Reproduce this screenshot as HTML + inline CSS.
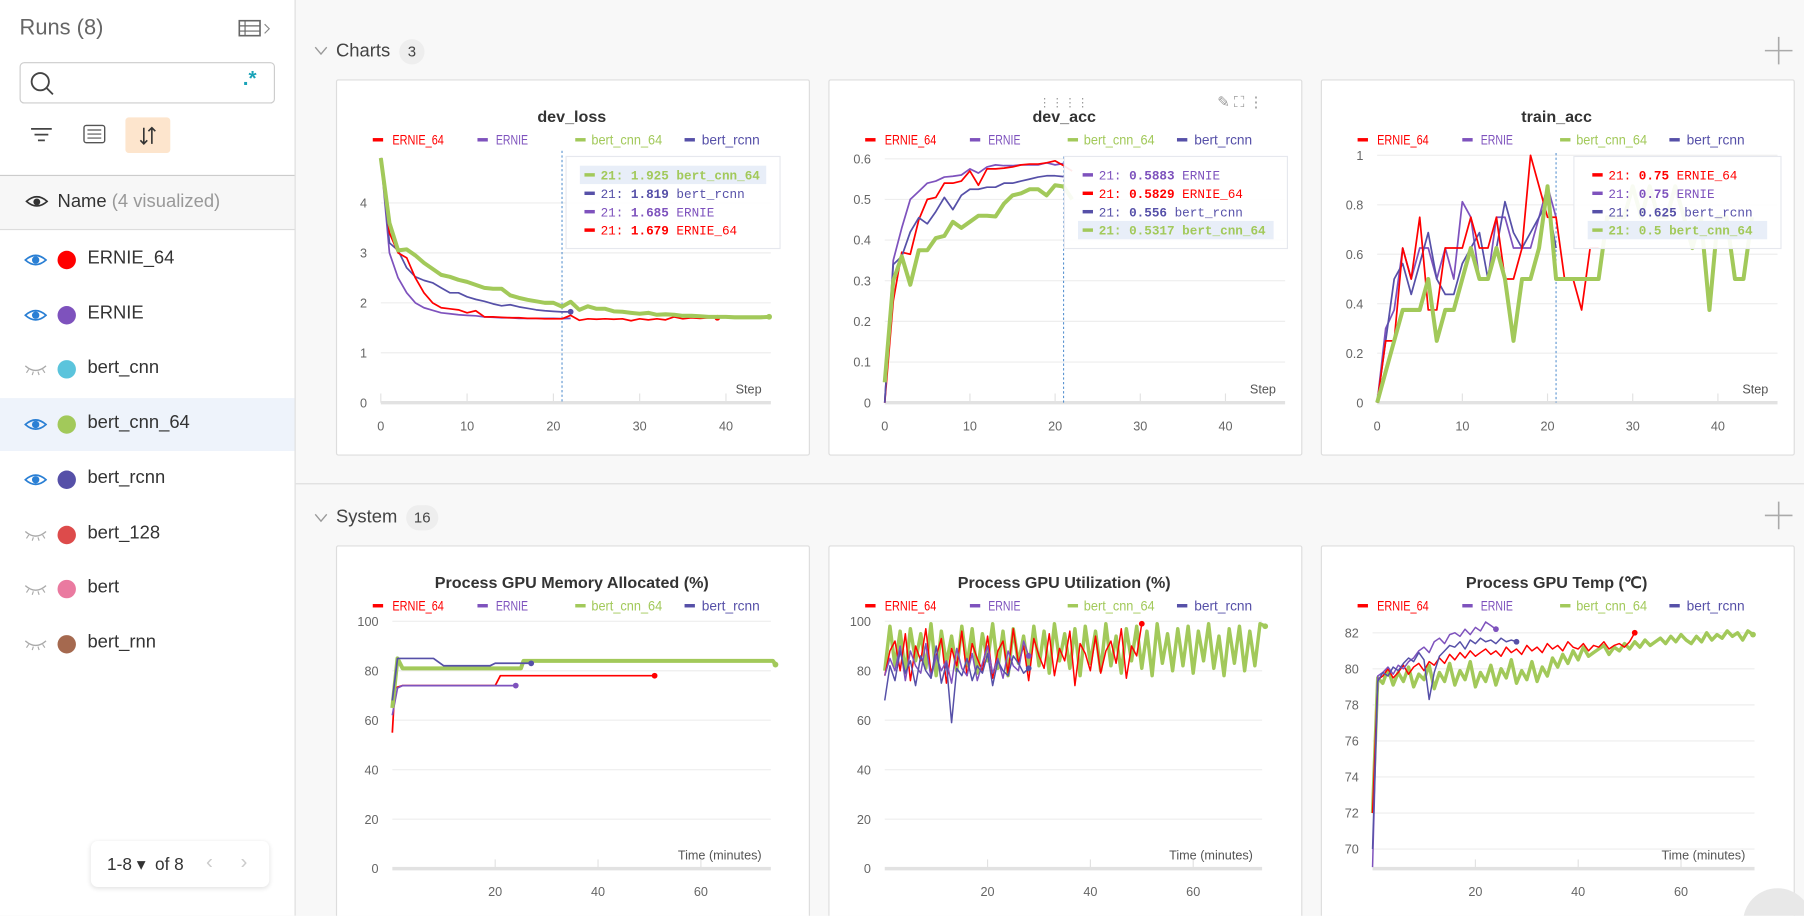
<!DOCTYPE html>
<html><head><meta charset="utf-8">
<style>
html,body{margin:0;padding:0;width:1804px;height:916px;overflow:hidden;background:#f8f8f8;font-family:"Liberation Sans",sans-serif;}
#outer{position:relative;width:1804px;height:916px;overflow:hidden;}
#wrap{position:absolute;left:0;top:0;width:1568px;height:796px;overflow:hidden;transform:scale(1.15051);transform-origin:0 0;}
.abs{position:absolute;}
#side{left:0;top:0;width:256px;height:796px;background:#fff;border-right:1px solid #ddd;}
.row{position:absolute;left:0;width:256px;height:46px;}
.row .dot{position:absolute;left:50px;top:15px;width:16px;height:16px;border-radius:50%;}
.row .lbl{position:absolute;left:76px;top:13px;font-size:16px;color:#333;}
.row svg{position:absolute;left:21px;top:16px;}
.panel{position:absolute;background:#fff;border:1px solid #ddd;border-radius:2px;}
</style></head><body>
<div id="outer">
<div id="wrap">
 <div id="side" class="abs">
  <div class="abs" style="left:17px;top:14px;font-size:19px;color:#666">Runs (8)</div>
  <svg class="abs" style="left:207px;top:17px" width="32" height="16"><rect x="1" y="1" width="18" height="13" fill="none" stroke="#666" stroke-width="1.4"/><line x1="1" y1="5.5" x2="19" y2="5.5" stroke="#666"/><line x1="1" y1="10" x2="19" y2="10" stroke="#666"/><line x1="6" y1="1" x2="6" y2="14" stroke="#666"/><path d="M23 4 L27 8 L23 12" fill="none" stroke="#888"/></svg>
  <div class="abs" style="left:17px;top:54px;width:220px;height:34px;border:1px solid #ccc;border-radius:4px">
   <svg class="abs" style="left:7px;top:6px" width="24" height="24"><circle cx="10" cy="10" r="7.5" fill="none" stroke="#444" stroke-width="1.6"/><line x1="15.5" y1="15.5" x2="21" y2="21" stroke="#444" stroke-width="1.6"/></svg>
   <div class="abs" style="left:193px;top:3px;color:#1aa3b8;font-size:18px;font-weight:bold">.*</div>
  </div>
  <svg class="abs" style="left:26px;top:109px" width="22" height="18"><line x1="1" y1="3" x2="19" y2="3" stroke="#444" stroke-width="1.5"/><line x1="4" y1="8" x2="16" y2="8" stroke="#444" stroke-width="1.5"/><line x1="7" y1="13" x2="13" y2="13" stroke="#444" stroke-width="1.5"/></svg>
  <svg class="abs" style="left:72px;top:108px" width="22" height="18"><rect x="1" y="1" width="18" height="15" rx="2" fill="none" stroke="#555" stroke-width="1.2"/><line x1="4" y1="5" x2="16" y2="5" stroke="#555"/><line x1="4" y1="8.5" x2="16" y2="8.5" stroke="#555"/><line x1="4" y1="12" x2="16" y2="12" stroke="#555"/></svg>
  <div class="abs" style="left:109px;top:102px;width:39px;height:31px;background:#fde5cd;border-radius:3px">
   <svg class="abs" style="left:11px;top:6px" width="18" height="20"><path d="M5 3 V17 M2 14 L5 17 L8 14 M12 17 V3 M9 6 L12 3 L15 6" fill="none" stroke="#333" stroke-width="1.4"/></svg>
  </div>
  <div class="abs" style="left:0;top:152px;width:256px;height:46px;background:#f7f7f7;border-top:1px solid #ccc;border-bottom:1px solid #ddd">
   <svg class="abs" style="left:22px;top:17px" width="20" height="14"><path d="M1 5 Q10 -3 19 5 Q10 13 1 5 Z" fill="none" stroke="#333" stroke-width="1.4"/><circle cx="10" cy="5.5" r="3" fill="#333"/></svg>
   <div class="abs" style="left:50px;top:14px;font-size:16px;color:#333">Name <span style="color:#999">(4 visualized)</span></div>
  </div>
  <div id="runs"></div>
  <div class="abs" style="left:79px;top:731px;width:155px;height:40px;background:#fff;border-radius:6px;box-shadow:0 1px 4px rgba(0,0,0,0.12)">
   <div class="abs" style="left:14px;top:11px;font-size:15px;color:#333">1-8 ▾ &nbsp;of 8</div>
   <div class="abs" style="left:100px;top:8px;font-size:18px;color:#ccc">‹</div>
   <div class="abs" style="left:130px;top:8px;font-size:18px;color:#ccc">›</div>
  </div>
 </div>

 <svg class="abs" style="left:272px;top:39px" width="14" height="10"><path d="M2 2 L7 8 L12 2" fill="none" stroke="#999" stroke-width="1.2"/></svg>
 <div class="abs" style="left:292px;top:36px;font-size:16px;color:#444">Charts</div>
 <div class="abs" style="left:347px;top:34px;width:22px;height:22px;border-radius:11px;background:#eee;font-size:13px;color:#444;text-align:center;line-height:22px">3</div>
 <svg class="abs" style="left:1533px;top:31px" width="26" height="26"><line x1="13" y1="1" x2="13" y2="25" stroke="#aaa" stroke-width="1.4"/><line x1="1" y1="13" x2="25" y2="13" stroke="#aaa" stroke-width="1.4"/></svg>
 <div class="abs" style="left:257px;top:420px;width:1311px;height:1px;background:#ddd"></div>
 <svg class="abs" style="left:272px;top:445px" width="14" height="10"><path d="M2 2 L7 8 L12 2" fill="none" stroke="#999" stroke-width="1.2"/></svg>
 <div class="abs" style="left:292px;top:441px;font-size:16px;color:#444">System</div>
 <div class="abs" style="left:353px;top:439px;width:28px;height:22px;border-radius:11px;background:#eee;font-size:13px;color:#444;text-align:center;line-height:22px">16</div>
 <svg class="abs" style="left:1533px;top:435px" width="26" height="26"><line x1="13" y1="1" x2="13" y2="25" stroke="#aaa" stroke-width="1.4"/><line x1="1" y1="13" x2="25" y2="13" stroke="#aaa" stroke-width="1.4"/></svg>

 <div class="panel" style="left:292px;top:69px;width:410px;height:325px"></div>
 <div class="panel" style="left:720px;top:69px;width:410px;height:325px"></div>
 <div class="panel" style="left:1148px;top:69px;width:410px;height:325px"></div>
 <div class="panel" style="left:292px;top:474px;width:410px;height:340px"></div>
 <div class="panel" style="left:720px;top:474px;width:410px;height:340px"></div>
 <div class="panel" style="left:1148px;top:474px;width:410px;height:340px"></div>

 <svg id="ch" class="abs" style="left:0;top:0" width="1568" height="796" font-family="Liberation Sans, sans-serif"></svg>
 <div class="abs" style="left:1515px;top:772px;width:60px;height:60px;border-radius:30px;background:#e8e8e8"></div>
</div>
</div>
<script>
// ---------- data ----------
const runNames = ["ERNIE_64","ERNIE","bert_cnn","bert_cnn_64","bert_rcnn","bert_128","bert","bert_rnn"];
const runColors = ["#ff0000","#7e52bd","#5bc4dc","#a2c95a","#5650a8","#dd4b4b","#ea7aa0","#a5694f"];
const runVisible = [true,true,false,true,true,false,false,false];
const legendNames = ["ERNIE_64","ERNIE","bert_cnn_64","bert_rcnn"];
const legendColors = ["#ff0000","#7e52bd","#a2c95a","#5650a8"];

const lossErnie64 = [4.9,3.4,3.0,2.9,2.5,2.2,2.0,1.9,1.88,1.86,1.8,1.84,1.72,1.72,1.71,1.7,1.7,1.69,1.69,1.68,1.68,1.679,1.75,1.65,1.68,1.67,1.68,1.67,1.68,1.64,1.68,1.66,1.68,1.66,1.72,1.68,1.7,1.69,1.7,1.7];
const lossErnie = [4.9,3.0,2.5,2.2,2.0,1.9,1.85,1.8,1.78,1.76,1.75,1.74,1.72,1.71,1.7,1.7,1.69,1.69,1.69,1.69,1.69,1.685,1.69];
const lossCnn64 = [4.9,3.6,3.05,3.07,2.95,2.8,2.68,2.56,2.52,2.46,2.42,2.36,2.3,2.28,2.28,2.15,2.1,2.06,2.03,2.0,2.0,1.925,2.02,1.86,1.93,1.88,1.88,1.83,1.82,1.8,1.78,1.8,1.76,1.77,1.76,1.74,1.74,1.73,1.72,1.72,1.72,1.71,1.71,1.71,1.71,1.72];
const lossRcnn = [4.9,3.2,3.05,2.7,2.52,2.45,2.4,2.3,2.2,2.2,2.12,2.07,2.03,1.98,1.94,1.96,1.92,1.89,1.86,1.84,1.83,1.819,1.82];

const accErnie64 = [0,0.25,0.37,0.365,0.45,0.5,0.505,0.54,0.54,0.545,0.57,0.535,0.575,0.575,0.577,0.58,0.585,0.587,0.587,0.59,0.595,0.5829,0.57];
const accErnie = [0,0.35,0.43,0.5,0.52,0.54,0.545,0.555,0.557,0.56,0.575,0.565,0.58,0.585,0.583,0.583,0.585,0.585,0.585,0.59,0.585,0.5883];
const accCnn64 = [0.05,0.3,0.36,0.29,0.375,0.375,0.405,0.41,0.445,0.43,0.445,0.46,0.46,0.458,0.49,0.51,0.515,0.525,0.525,0.51,0.535,0.5317,0.5];
const accRcnn = [0,0.34,0.36,0.42,0.455,0.44,0.47,0.505,0.475,0.51,0.525,0.525,0.53,0.53,0.54,0.54,0.545,0.55,0.555,0.558,0.558,0.556];

const trErnie64 = [0,0.25,0.25,0.625,0.5,0.75,0.375,0.375,0.625,0.625,0.625,0.75,0.625,0.625,0.75,0.5,0.5,0.625,1,0.875,0.75,0.75,0.5,0.5,0.375,0.625,0.625];
const trErnie = [0,0.3,0.375,0.625,0.5,0.625,0.625,0.5,0.625,0.5,0.8125,0.75,0.5,0.5,0.75,0.75,0.625,0.625,0.625,0.75,0.875,0.75];
const trCnn64 = [0,0.125,0.25,0.375,0.375,0.375,0.5,0.25,0.375,0.375,0.5,0.625,0.5,0.5,0.625,0.5,0.25,0.5,0.5,0.625,0.875,0.5,0.5,0.5,0.5,0.5,0.5,0.75,0.75,0.75,0.875,0.75,0.875,0.75,0.75,0.875,0.75,0.625,0.75,0.375,0.75,0.75,0.5,0.5,0.75];
const trRcnn = [0,0.25,0.5,0.5625,0.4375,0.5625,0.6875,0.5,0.4375,0.4375,0.5625,0.625,0.6875,0.5,0.625,0.8125,0.6875,0.625,0.6875,0.75,0.8125,0.625];

const memErnie64 = [[0,55],[0.5,73],[2,74],[20,74],[21,78],[51,78]];
const memErnie = [[0,62],[1,73],[2,74],[24,74]];
const memCnn64 = [[0,65],[1,85],[2,81],[25,81],[25.5,84],[74,84],[74.5,82.5]];
const memRcnn = [[0,68],[1,85],[8,85],[10,82],[19,82],[20,83],[27,83]];

const utilErnie64 = [78,88,92,80,95,76,90,84,97,79,86,93,75,89,82,96,78,91,85,80,94,77,88,92,79,97,83,90,76,93,86,81,95,78,89,84,96,74,91,87,80,94,79,88,92,83,97,77,90,86,99];
const utilErnie = [78,85,80,90,76,88,82,79,91,77,86,80,84,75,89,81,78,87,76,83,90,79,85,77,88,82,80,92,86];
const utilCnn64 = [80,98,82,96,79,97,84,95,81,99,78,96,83,94,80,98,82,97,79,95,84,99,81,96,78,97,83,94,80,98,82,96,79,99,84,95,81,97,78,98,83,96,80,99,82,94,79,97,84,98,81,96,78,99,83,95,80,97,82,98,79,96,84,99,81,94,78,97,83,98,80,96,82,99,98];
const utilRcnn = [68,82,76,88,79,84,74,86,80,77,90,75,83,59,81,78,85,76,82,79,87,74,84,80,78,86,83,79,81];

const tempErnie64 = [72,79.4,79.6,80,79.5,79.8,80.2,79.7,80.1,80.3,79.9,80.4,80.2,80.6,80.3,80.8,80.5,80.9,80.6,81,80.7,80.9,81.1,80.8,81,80.7,81.2,80.9,81.1,80.8,81.3,81,81.2,80.9,81.4,81.1,81.3,81,81.5,81.2,81.1,81.4,81,81.3,81.2,81.5,81.1,81.3,81.4,81.2,81.5,82];
const tempErnie = [69,79.6,79.8,80.1,79.7,80.2,80,80.4,80.6,81,81.2,80.9,81.5,81.7,81.4,81.9,82,81.8,82.2,81.9,82.3,82.1,82.6,82.4,82.2];
const tempCnn64 = [72,79.5,79.2,80,79.1,79.8,79.3,80.1,79,79.7,79.4,80.2,78.9,79.8,79.3,80.3,79.1,79.9,79.4,80.4,79,79.8,79.3,80.2,79.1,80,79.5,80.5,79.2,79.9,79.4,80.4,79.3,80.1,79.6,80.6,80.1,80.8,80.3,81,80.5,81.2,80.7,80.9,81.1,81.3,80.8,81.2,81,81.4,81.1,81.5,81.2,81.6,81.3,81.5,81.7,81.4,81.8,81.5,81.9,81.6,81.4,81.8,81.5,82,81.6,81.9,81.7,82.1,81.8,82,81.6,82.1,81.9];
const tempRcnn = [70,79.3,79.8,79.6,80.1,79.9,80.3,80.6,80.4,80.9,80.5,78.3,79.8,80.7,81,81.3,81.2,81.5,81.1,81.6,81.4,81.7,81.5,81.6,81.4,81.7,81.5,81.6,81.5];

const stepTicks = [0,10,20,30,40];
const timeTicks = [20,40,60];
const lossTicks = [0,1,2,3,4];
const accTicks = [0,0.1,0.2,0.3,0.4,0.5,0.6];
const trTicks = [0,0.2,0.4,0.6,0.8,1];
const pctTicks = [0,20,40,60,80,100];
const tempTicks = [70,72,74,76,78,80,82];
const lossTip = [["21:","1.925","bert_cnn_64",2,true],["21:","1.819","bert_rcnn",3,false],["21:","1.685","ERNIE",1,false],["21:","1.679","ERNIE_64",0,false]];
const accTip = [["21:","0.5883","ERNIE",1,false],["21:","0.5829","ERNIE_64",0,false],["21:","0.556","bert_rcnn",3,false],["21:","0.5317","bert_cnn_64",2,true]];
const trTip = [["21:","0.75","ERNIE_64",0,false],["21:","0.75","ERNIE",1,false],["21:","0.625","bert_rcnn",3,false],["21:","0.5","bert_cnn_64",2,true]];

// ---------- sidebar rows ----------
const runsEl = document.getElementById('runs');
runNames.forEach((n,i)=>{
  const r=document.createElement('div');
  r.className='row';
  r.style.top=(203+i*47.7)+'px';
  if(i===3) r.style.background='#eef3fb';
  
  
  const eye = runVisible[i]
   ? '<svg width="20" height="14"><path d="M1 7 Q10 -1 19 7 Q10 15 1 7 Z" fill="none" stroke="#2a7fd4" stroke-width="1.5"/><circle cx="10" cy="7" r="3.2" fill="#2a7fd4"/></svg>'
   : '<svg width="20" height="14"><path d="M1 4 Q10 12 19 4" fill="none" stroke="#aaa" stroke-width="1.2"/><path d="M4 7 L2 10 M8 9 L7 12 M12 9 L13 12 M16 7 L18 10" stroke="#aaa" stroke-width="1"/></svg>';
  r.innerHTML=eye+'<div class="dot" style="background:'+runColors[i]+'"></div><div class="lbl">'+n+'</div>';
  runsEl.appendChild(r);
});

// ---------- chart drawing ----------
const NS='http://www.w3.org/2000/svg';
const svg=document.getElementById('ch');
function mk(tag,attrs,parent){const e=document.createElementNS(NS,tag);for(const k in attrs)e.setAttribute(k,attrs[k]);(parent||svg).appendChild(e);return e;}
function drawChart(c){
  const g=mk('g',{});
  
  
  const sx=v=>c.x0+(v-c.xmin)*(c.x1-c.x0)/(c.xmax-c.xmin);
  const sy=v=>c.y0-(v-c.ymin)*(c.y0-c.y1)/(c.ymax-c.ymin);
  const t=mk('text',{x:c.px+205,y:c.py+37,'text-anchor':'middle','font-size':14,'font-weight':'bold',fill:'#333'},g);
  t.textContent=c.title;
  
  
  const lx=[32,123,208,303], tx=[49,139,222,318];
  legendNames.forEach((n,i)=>{
    mk('rect',{x:c.px+lx[i],y:c.py+c.ly-2,width:9,height:3,fill:legendColors[i]},g);
    const lt=mk('text',{x:c.px+tx[i],y:c.py+c.ly+3.5,'font-size':12,fill:legendColors[i],textLength:n.length*5.6,lengthAdjust:'spacingAndGlyphs'},g);
    lt.textContent=n;
    
    
  });
  c.yticks.forEach(v=>{
    if(v!==c.ymin || c.gridAtMin) mk('line',{x1:c.x0,x2:c.x1,y1:sy(v),y2:sy(v),stroke:'#eeeeee','stroke-width':1},g);
    const yl=mk('text',{x:c.x0-12,y:sy(v)+4,'text-anchor':'end','font-size':11,fill:'#666'},g);
    yl.textContent=String(v);
    
    
  });
  mk('line',{x1:c.x0,x2:c.x1,y1:c.axisY,y2:c.axisY,stroke:'#e2e2e2','stroke-width':3},g);
  c.xticks.forEach(v=>{
    mk('line',{x1:sx(v),x2:sx(v),y1:c.axisY-8,y2:c.axisY,stroke:'#e2e2e2','stroke-width':1},g);
    const xl=mk('text',{x:sx(v),y:c.axisY+24,'text-anchor':'middle','font-size':11,fill:'#666'},g);
    xl.textContent=String(v);
    
    
  });
  const at=mk('text',{x:c.x1-8,y:c.axisY-8,'text-anchor':'end','font-size':11,fill:'#555'},g);
  at.textContent=c.xlabel;
  
  
  if(c.cross!==undefined) mk('line',{x1:sx(c.cross),x2:sx(c.cross),y1:c.y1-2,y2:c.axisY,stroke:'#3a7fc8','stroke-width':0.8,'stroke-dasharray':'2,2'},g);
  c.series.forEach(s=>{
    const pts=s.data.map((d,i)=>Array.isArray(d)?[sx(d[0]),sy(d[1])]:[sx(i*(c.dx||1)),sy(d)]);
    const p=mk('polyline',{points:pts.map(q=>q[0].toFixed(1)+','+q[1].toFixed(1)).join(' '),fill:'none',stroke:s.color,'stroke-width':s.w,'stroke-linejoin':'round'},g);
    
    
    if(s.end){const q=pts[pts.length-1];mk('circle',{cx:q[0],cy:q[1],r:2.5,fill:s.color},g);}
  });
  if(c.tip){
    const bx=c.tipX, by=c.py+67;
    const box=mk('rect',{x:bx,y:by,width:c.tipW,height:80,fill:'rgba(255,255,255,0.92)',stroke:'#e6e8ee'},g);
    
    
    c.tip.forEach((r,i)=>{
      const yy=by+16+i*16;
      if(r[4]) mk('rect',{x:bx+12,y:yy-8,width:c.tipW-24,height:16,fill:'#e8eef8'},g);
      mk('rect',{x:bx+16,y:yy-1.5,width:9,height:3,fill:legendColors[r[3]]},g);
      const tt=mk('text',{x:bx+30,y:yy+4,'font-size':11,'font-family':'Liberation Mono, monospace',fill:legendColors[r[3]],'font-weight':r[4]?'bold':'normal'},g);
      tt.innerHTML=r[0]+' <tspan font-weight="bold">'+r[1]+'</tspan> '+r[2];
      
      
    });
  }
}
const C=legendColors;
function S(name,data,i,w,end){return {name:name,data:data,color:C[i],w:w||1.5,end:end};}
drawChart({name:'dev-loss-chart',title:'dev_loss',px:292,py:69,ly:53,x0:331,x1:670,xmin:0,xmax:45.2,y0:350,y1:133,ymin:0,ymax:5,axisY:350,yticks:lossTicks,xticks:stepTicks,xlabel:'Step',cross:21,
 series:[S('series-ernie',lossErnie,1),S('series-bert-rcnn',lossRcnn,3,1.5,true),S('series-ernie-64',lossErnie64,0,1.5,true),S('series-bert-cnn-64',lossCnn64,2,3.5,true)],tip:lossTip,tipX:492,tipW:186});
drawChart({name:'dev-acc-chart',title:'dev_acc',px:720,py:69,ly:53,x0:769,x1:1117,xmin:0,xmax:47,y0:350,y1:138,ymin:0,ymax:0.6,axisY:350,yticks:accTicks,xticks:stepTicks,xlabel:'Step',cross:21,gridAtMin:false,
 series:[S('series-ernie',accErnie,1),S('series-ernie-64',accErnie64,0),S('series-bert-rcnn',accRcnn,3),S('series-bert-cnn-64',accCnn64,2,3.5)],tip:accTip,tipX:925,tipW:194});
drawChart({name:'train-acc-chart',title:'train_acc',px:1148,py:69,ly:53,x0:1197,x1:1545,xmin:0,xmax:47,y0:350,y1:135,ymin:0,ymax:1,axisY:350,yticks:trTicks,xticks:stepTicks,xlabel:'Step',cross:21,
 series:[S('series-ernie',trErnie,1),S('series-bert-rcnn',trRcnn,3),S('series-ernie-64',trErnie64,0),S('series-bert-cnn-64',trCnn64,2,3.5)],tip:trTip,tipX:1368,tipW:180});
drawChart({name:'gpu-memory-chart',title:'Process GPU Memory Allocated (%)',px:292,py:474,ly:53,x0:341,x1:670,xmin:0,xmax:73.6,y0:755,y1:540,ymin:0,ymax:100,axisY:755,yticks:pctTicks,xticks:timeTicks,xlabel:'Time (minutes)',
 series:[S('series-ernie-64',memErnie64,0,1.5,true),S('series-ernie',memErnie,1,1.5,true),S('series-bert-cnn-64',memCnn64,2,3.5,true),S('series-bert-rcnn',memRcnn,3,1.5,true)]});
drawChart({name:'gpu-util-chart',title:'Process GPU Utilization (%)',px:720,py:474,ly:53,x0:769,x1:1097,xmin:0,xmax:73.4,y0:755,y1:540,ymin:0,ymax:100,axisY:755,yticks:pctTicks,xticks:timeTicks,xlabel:'Time (minutes)',
 series:[S('series-bert-cnn-64',utilCnn64,2,3,true),S('series-ernie-64',utilErnie64,0,1.3,true),S('series-ernie',utilErnie,1,1.3,true),S('series-bert-rcnn',utilRcnn,3,1.3,true)]});
drawChart({name:'gpu-temp-chart',title:'Process GPU Temp (\u2103)',px:1148,py:474,ly:53,x0:1193,x1:1525,xmin:0,xmax:74.3,y0:738,y1:550,ymin:70,ymax:82,axisY:755,yticks:tempTicks,xticks:timeTicks,xlabel:'Time (minutes)',gridAtMin:true,
 series:[S('series-bert-cnn-64',tempCnn64,2,3,true),S('series-ernie-64',tempErnie64,0,1.3,true),S('series-ernie',tempErnie,1,1.3,true),S('series-bert-rcnn',tempRcnn,3,1.3,true)]});
const dh=mk('text',{x:925,y:92,'text-anchor':'middle','font-size':10,fill:'#999','letter-spacing':'1'});
dh.textContent='⋮⋮⋮⋮';


const ic=mk('text',{x:1058,y:93,'font-size':13,fill:'#999'});
ic.textContent='✎  ⛶  ⋮';


</script>
</body></html>
